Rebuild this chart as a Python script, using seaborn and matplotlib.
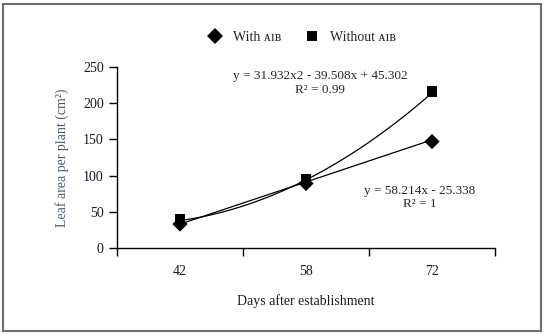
import numpy as np
import pandas as pd
import seaborn as sns
import matplotlib.pyplot as plt
from matplotlib.patches import Rectangle

days = ['42', '58', '72']
with_aib = [33, 89, 147]
without_aib = [40, 95, 216]

# trend line coefficients as printed on the chart
lin_coef = [58.214, -25.338]
quad_coef = [31.932, -39.508, 45.302]

sns.set_theme(style='ticks')
plt.rcParams['font.family'] = ['Liberation Serif', 'DejaVu Serif']

df = pd.DataFrame({'day': days * 2,
                   'area': with_aib + without_aib,
                   'group': ['With ᴀɪʙ'] * 3 + ['Without ᴀɪʙ'] * 3})

fig = plt.figure(figsize=(5.44, 3.35), dpi=100)
ax = fig.add_axes([0.215, 0.26, 0.695, 0.54])

sns.scatterplot(data=df, x='day', y='area', hue='group', style='group',
                markers={'With ᴀɪʙ': 'D', 'Without ᴀɪʙ': 's'},
                palette={'With ᴀɪʙ': 'black', 'Without ᴀɪʙ': 'black'},
                s=60, edgecolor='black', linewidth=0, ax=ax, zorder=3)

xs = np.linspace(1, 3, 100)
ax.plot(xs - 1, np.polyval(lin_coef, xs), color='black', lw=0.9, zorder=2)
ax.plot(xs - 1, np.polyval(quad_coef, xs), color='black', lw=0.9, zorder=2)

ax.set_xlim(-0.5, 2.5)
ax.set_ylim(0, 250)
ax.set_yticks([0, 50, 100, 150, 200, 250])
ax.set_xticks([0, 1, 2])
ax.set_xticklabels(days)
ax.tick_params(axis='x', length=0, pad=12, labelsize=10, colors='#1a1a1a')
ax.set_xticks([-0.5, 0.5, 1.5, 2.5], minor=True)
ax.tick_params(axis='x', which='minor', length=6, width=1, direction='out', color='black')
ax.tick_params(axis='y', length=6, width=1, direction='out', labelsize=10, colors='black')
for lbl in ax.get_yticklabels():
    lbl.set_color('#1a1a2e')
for sp in ['left', 'bottom']:
    ax.spines[sp].set_color('black')
    ax.spines[sp].set_linewidth(1)
sns.despine(ax=ax)

ax.set_xlabel('Days after establishment', fontsize=10, labelpad=12, color='#1a1a1a')
ax.set_ylabel('Leaf area per plant (cm²)', fontsize=10, color='#4a5870', labelpad=10)

ax.text(1.11, 238, 'y = 31.932x2 - 39.508x + 45.302', ha='center', va='center', fontsize=9.5)
ax.text(1.11, 218, 'R² = 0.99', ha='center', va='center', fontsize=9.5)
ax.text(1.90, 79, 'y = 58.214x - 25.338', ha='center', va='center', fontsize=9.5)
ax.text(1.90, 61, 'R² = 1', ha='center', va='center', fontsize=9.5)

leg = ax.legend(loc='lower center', bbox_to_anchor=(0.48, 1.06), ncol=2, frameon=False,
                fontsize=10, handletextpad=0.3, columnspacing=1.2, markerscale=1.0)

fig.patches.append(Rectangle((3 / 544, 4 / 335), 538 / 544, 327 / 335, transform=fig.transFigure,
                             fill=False, edgecolor='#6e6e6e', lw=1.5))

fig.savefig('out.png', dpi=100)
